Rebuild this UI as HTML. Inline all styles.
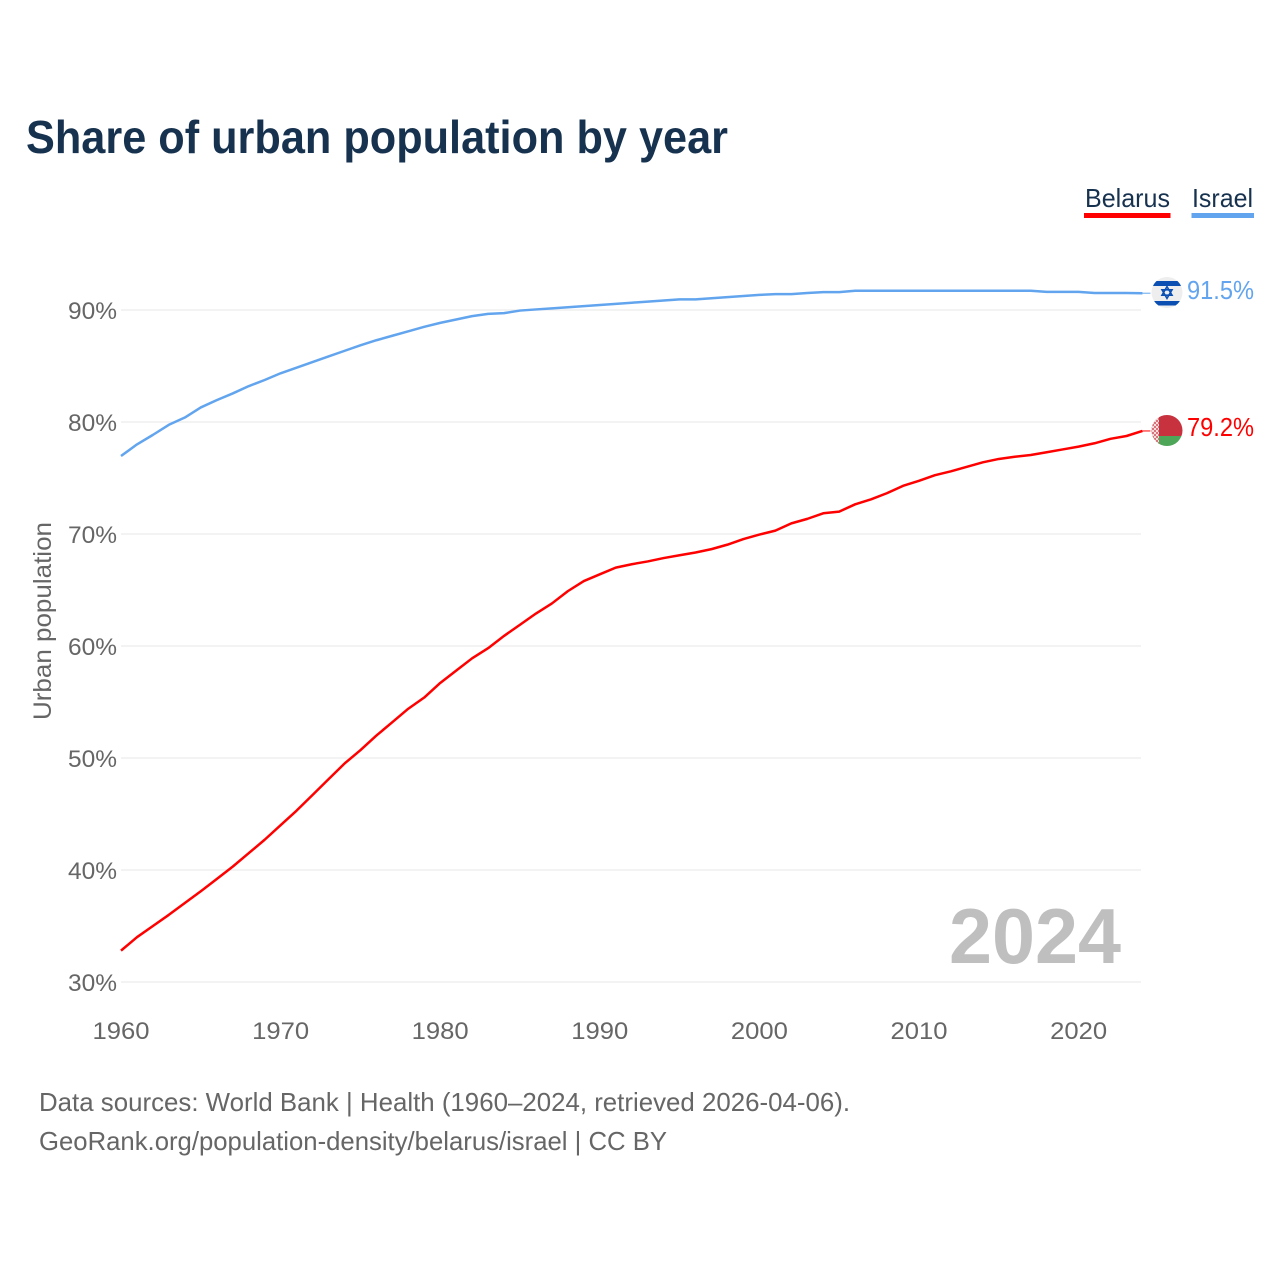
<!DOCTYPE html>
<html lang="en">
<head>
<meta charset="utf-8">
<title>Share of urban population by year</title>
<style>
html,body{margin:0;padding:0;background:#fff;width:1280px;height:1280px;overflow:hidden}
svg{display:block}
text{font-family:"Liberation Sans",sans-serif}
</style>
</head>
<body>
<svg id="chart" width="1280" height="1280" viewBox="0 0 1280 1280" xmlns="http://www.w3.org/2000/svg">
  <defs>
    <clipPath id="il-clip"><circle cx="1167" cy="292.5" r="15.5"/></clipPath>
    <clipPath id="by-clip"><circle cx="1167" cy="430.5" r="15.5"/></clipPath>
    <pattern id="by-ornament" width="4" height="4" patternUnits="userSpaceOnUse">
      <rect width="4" height="4" fill="#f3dcdc"/>
      <rect width="2" height="2" fill="#d9737b"/>
      <rect x="2" y="2" width="2" height="2" fill="#d9737b"/>
    </pattern>
  </defs>
  <text x="26" y="153" font-size="46" font-weight="700" fill="#17324f" textLength="702" lengthAdjust="spacingAndGlyphs">Share of urban population by year</text>

  <g id="grid"></g>
  <g id="yticks"></g>
  <g id="xticks"></g>

  <text transform="translate(51,621) rotate(-90)" text-anchor="middle" font-size="25" fill="#666666" textLength="198" lengthAdjust="spacingAndGlyphs">Urban population</text>

  <text x="1121" y="963" text-anchor="end" font-size="78" font-weight="700" fill="#bfbfbf" textLength="172" lengthAdjust="spacingAndGlyphs">2024</text>

  <g>
    <text x="1085" y="207" font-size="26" fill="#17324f" textLength="85" lengthAdjust="spacingAndGlyphs">Belarus</text>
    <rect x="1084" y="213" width="86.5" height="5" fill="#ff0000"/>
  </g>
  <g>
    <text x="1192" y="207" font-size="26" fill="#17324f" textLength="61" lengthAdjust="spacingAndGlyphs">Israel</text>
    <rect x="1191.5" y="213" width="62.5" height="5" fill="#62a5ee"/>
  </g>

  <g id="series"></g>

  <g>
    <circle cx="1167" cy="292.5" r="15.5" fill="#eeeeee"/>
    <g clip-path="url(#il-clip)">
      <rect x="1152" y="281" width="30" height="5" fill="#0b4fb3"/>
      <rect x="1152" y="301" width="30" height="4.5" fill="#0b4fb3"/>
    </g>
    <polygon points="1167,286.6 1172,295.2 1162,295.2" fill="none" stroke="#0b4fb3" stroke-width="1.6"/>
    <polygon points="1167,298.4 1172,289.8 1162,289.8" fill="none" stroke="#0b4fb3" stroke-width="1.6"/>
  </g>
  <g clip-path="url(#by-clip)">
    <rect x="1151" y="415" width="32" height="21" fill="#c8323f"/>
    <rect x="1151" y="436" width="32" height="11" fill="#4ea659"/>
    <rect x="1151" y="415" width="8" height="32" fill="url(#by-ornament)"/>
  </g>

  <text id="label-israel" x="1187" y="299" font-size="26" fill="#62a5ee" textLength="67" lengthAdjust="spacingAndGlyphs">91.5%</text>
  <text id="label-belarus" x="1187" y="436" font-size="26" fill="#ff0000" textLength="67" lengthAdjust="spacingAndGlyphs">79.2%</text>

  <text x="39" y="1111" font-size="26" fill="#666666" textLength="811" lengthAdjust="spacingAndGlyphs">Data sources: World Bank | Health (1960–2024, retrieved 2026-04-06).</text>
  <text x="39" y="1150" font-size="26" fill="#666666" textLength="628" lengthAdjust="spacingAndGlyphs">GeoRank.org/population-density/belarus/israel | CC BY</text>
</svg>
<script>
const startYear = 1960;
const yTickValues = [30, 40, 50, 60, 70, 80, 90];
const xTickValues = [1960, 1970, 1980, 1990, 2000, 2010, 2020];
const belarusValues = [
  32.8, 34.0, 35.0, 36.0, 37.05, 38.1, 39.2, 40.3, 41.5, 42.7,
  44.0, 45.3, 46.7, 48.1, 49.5, 50.7, 52.0, 53.2, 54.4, 55.4,
  56.7, 57.8, 58.9, 59.8, 60.9, 61.9, 62.9, 63.8, 64.9, 65.8,
  66.4, 67.0, 67.3, 67.55, 67.85, 68.1, 68.35, 68.65, 69.05, 69.55,
  69.95, 70.3, 70.95, 71.35, 71.85, 72.0, 72.65, 73.1, 73.65, 74.3,
  74.75, 75.25, 75.6, 76.0, 76.4, 76.7, 76.9, 77.05, 77.3, 77.55,
  77.8, 78.1, 78.5, 78.75, 79.2
];
const israelValues = [
  76.96, 78.0, 78.85, 79.75, 80.4, 81.3, 81.95, 82.55, 83.2, 83.75,
  84.35, 84.85, 85.35, 85.85, 86.35, 86.85, 87.3, 87.7, 88.1, 88.5,
  88.85, 89.15, 89.45, 89.65, 89.72, 89.95, 90.05, 90.15, 90.25, 90.35,
  90.45, 90.55, 90.65, 90.75, 90.85, 90.95, 90.95, 91.05, 91.15, 91.25,
  91.35, 91.42, 91.42, 91.52, 91.6, 91.6, 91.72, 91.72, 91.72, 91.72,
  91.72, 91.72, 91.72, 91.72, 91.72, 91.72, 91.72, 91.72, 91.62, 91.62,
  91.62, 91.52, 91.52, 91.52, 91.5
];

const SVG_NS = 'http://www.w3.org/2000/svg';
function xScale(year) { return 121 + (year - 1960) * 15.96; }
function yScale(value) { return 982 - (value - 30) * 11.2; }
function make(tag, attrs, parent) {
  const el = document.createElementNS(SVG_NS, tag);
  for (const k in attrs) el.setAttribute(k, attrs[k]);
  parent.appendChild(el);
  return el;
}

const gridGroup = document.getElementById('grid');
const yGroup = document.getElementById('yticks');
const xGroup = document.getElementById('xticks');
const seriesGroup = document.getElementById('series');

yTickValues.forEach(function (v) {
  const line = make('line', { x1: 121, x2: 1141, y1: yScale(v), y2: yScale(v), stroke: '#ececec', 'stroke-width': 1.2 }, gridGroup);
  
  
  const label = make('text', { x: 117, y: yScale(v) + 9, 'text-anchor': 'end', 'font-size': 24, fill: '#666666', textLength: 49, lengthAdjust: 'spacingAndGlyphs' }, yGroup);
  
  
  label.textContent = v + '%';
});

xTickValues.forEach(function (year) {
  const label = make('text', { x: xScale(year), y: 1039, 'text-anchor': 'middle', 'font-size': 24, fill: '#666666', textLength: 57, lengthAdjust: 'spacingAndGlyphs' }, xGroup);
  
  
  label.textContent = year;
});

function drawSeries(values, color, name) {
  const pts = values.map(function (v, i) {
    return xScale(startYear + i).toFixed(2) + ',' + yScale(v).toFixed(2);
  }).join(' ');
  const line = make('polyline', { points: pts, fill: 'none', stroke: color, 'stroke-width': 2.5, 'stroke-linejoin': 'round' }, seriesGroup);
  
  
  const lastIndex = values.length - 1;
  const lastX = xScale(startYear + lastIndex);
  const lastY = yScale(values[lastIndex]);
  const tail = make('line', { x1: lastX, x2: lastX + 8, y1: lastY, y2: lastY, stroke: color, 'stroke-width': 1 }, seriesGroup);
  
  
}
drawSeries(israelValues, '#62a5ee', 'israel');
drawSeries(belarusValues, '#ff0000', 'belarus');
</script>
</body>
</html>
